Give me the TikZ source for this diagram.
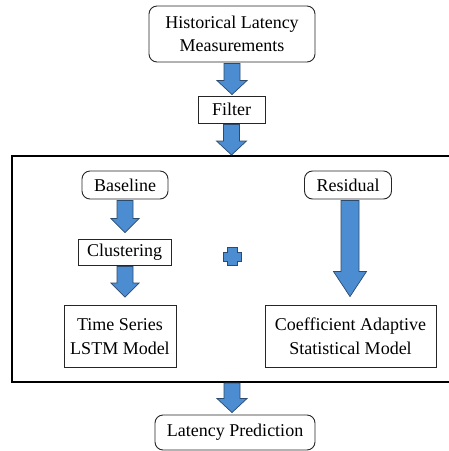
\documentclass[tikz,border=0pt]{standalone}
\usepackage{fontspec}
\setmainfont{Liberation Serif}
\usetikzlibrary{calc}

\definecolor{arrowfill}{RGB}{76,140,208}
\definecolor{arrowline}{RGB}{45,75,110}

\tikzset{
  box/.style={draw=black!85, line width=0.9pt, fill=white, align=center,
    inner sep=0pt, font=\fontsize{18}{23.5}\selectfont},
  roundbox/.style={box, rounded corners=8pt},
  frame/.style={draw=black, line width=1.1pt, inner sep=0pt},
  blk/.style={fill=arrowfill, draw=arrowline, line width=0.7pt, line join=miter},
}

% block arrow pointing down: start, end, shaft half-width, head half-width, head length
\newcommand{\fatarrow}[5]{%
  \path[blk] let \p1=(#1), \p2=(#2) in
    (\x1-#3,\y1) -- (\x1-#3,\y2+#5) -- (\x1-#4,\y2+#5) -- (\x1,\y2)
    -- (\x1+#4,\y2+#5) -- (\x1+#3,\y2+#5) -- (\x1+#3,\y1) -- cycle;
}

\begin{document}
\begin{tikzpicture}[x=1pt,y=-1pt]
  \useasboundingbox (0,0) rectangle (449,451);

  % outer frame holding the two models; it runs past the right margin
  \coordinate (frameNW) at (12,156);
  \coordinate (frameSE) at (480,382);
  \draw[frame] (frameSE |- frameNW) -- (frameNW) -- (frameNW |- frameSE) -- (frameSE);
  \coordinate (frameTop) at (232,156);
  \coordinate (frameBot) at (232,382);

  \node[roundbox, minimum width=166pt, minimum height=56pt] (hist) at (232,34)
    {Historical Latency\\Measurements};
  \node[box, minimum width=67pt, minimum height=27pt] (filter) at (231.5,109.5) {Filter};

  \node[roundbox, minimum width=86pt, minimum height=28pt] (base) at (125,185) {Baseline};
  \node[box, minimum width=93pt, minimum height=26pt] (clus) at (124.5,252) {Clustering};
  \node[box, minimum width=112pt, minimum height=62pt] (ts) at (120,336.5)
    {Time Series\\LSTM Model};

  \node[roundbox, minimum width=87pt, minimum height=28pt] (resid) at (348,185) {Residual};
  \node[box, minimum width=171pt, minimum height=62pt] (coef) at (350.5,336)
    {Coefficient Adaptive\\Statistical Model};

  \node[roundbox, minimum width=160pt, minimum height=35pt] (pred) at (235,432.5)
    {Latency Prediction};

  % plus sign between the two branches
  \node[inner sep=0pt, minimum size=19pt] (plus) at (232,256.5) {};
  \path[blk, shift={(plus.center)}]
    (-5,-9) -- (5,-9) -- (5,-4.5) -- (9,-4.5) -- (9,4.5) -- (5,4.5) -- (5,9)
    -- (-5,9) -- (-5,4.5) -- (-9,4.5) -- (-9,-4.5) -- (-5,-4.5) -- cycle;

  % block arrows
  \fatarrow{$(hist.south)+(0,1)$}{$(filter.north)+(0,-1)$}{8pt}{15pt}{14pt}
  \fatarrow{$(filter.south)+(0,1)$}{$(frameTop)+(0,-1)$}{8pt}{15pt}{14pt}
  \fatarrow{$(base.south)+(0,1)$}{$(clus.north)+(0,-6)$}{8pt}{14pt}{14pt}
  \fatarrow{$(clus.south)+(0.5,1)$}{$(ts.north)+(0,-8)$}{8pt}{14pt}{14pt}
  \fatarrow{$(resid.south)+(2,1)$}{$(coef.north)+(0,-8)$}{9pt}{16.5pt}{25pt}
  \fatarrow{$(frameBot)+(0,1)$}{$(pred.north)+(0,-2)$}{8pt}{15pt}{14pt}
\end{tikzpicture}
\end{document}
